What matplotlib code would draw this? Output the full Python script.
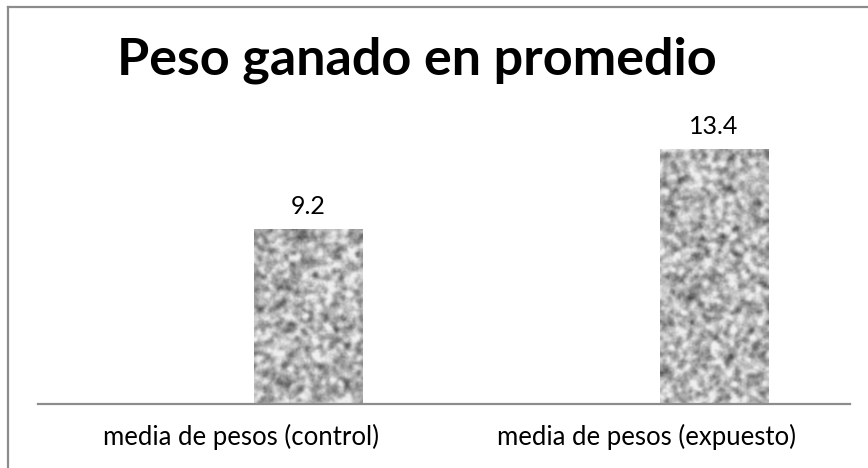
import numpy as np
import matplotlib
matplotlib.use("Agg")
import matplotlib.pyplot as plt
from matplotlib.lines import Line2D

plt.rcParams['font.family'] = ['Lato', 'DejaVu Sans']

title = "Peso ganado en promedio"
categories = ["media de pesos (control)", "media de pesos (expuesto)"]
values = [9.2, 13.4]
value_labels = ["9.2", "13.4"]

fig = plt.figure(figsize=(8.68, 4.68), dpi=100)
fig.patch.set_facecolor("white")

# chart frame (top and left edges visible)
fig.add_artist(Line2D([8/868, 1.0], [1 - 7/468, 1 - 7/468], transform=fig.transFigure,
                      color="#8c8c8c", lw=1.6))
fig.add_artist(Line2D([8/868, 8/868], [0.0, 1 - 7/468], transform=fig.transFigure,
                      color="#8c8c8c", lw=1.6))

ax = fig.add_axes([38/868, 1 - 404/468, (850 - 38)/868, (404 - 100)/468])
ax.set_xlim(-0.5, 1.5)
ax.set_ylim(0, 16)

x = np.arange(len(categories))
offset = 0.165
width = 0.268
bars = ax.bar(x + offset, values, width=width, color="none", edgecolor="none")


def granite(h, w, rng):
    # smoothed speckle noise for the stone fill
    n = rng.normal(size=(h + 4, w + 4))
    k = np.array([1, 2, 3, 2, 1], dtype=float)
    k /= k.sum()
    n = np.apply_along_axis(lambda r: np.convolve(r, k, mode="same"), 1, n)
    n = np.apply_along_axis(lambda c: np.convolve(c, k, mode="same"), 0, n)
    n = n[2:-2, 2:-2]
    fine = rng.normal(size=(h, w)) * 0.4
    n = n / n.std() + fine
    g = 182 + 32 * n
    g = np.clip(g, 70, 240) / 255.0
    return g


rng = np.random.default_rng(7)
for b in bars:
    x0, y0 = b.get_x(), b.get_y()
    w, h = b.get_width(), b.get_height()
    rows = int(h / 16 * 304 / 1.6)
    cols = int(w * 406 / 1.6)
    tex = granite(rows, cols, rng)
    ax.imshow(tex, cmap="gray", vmin=0, vmax=1, extent=(x0, x0 + w, y0, y0 + h),
              aspect="auto", interpolation="bicubic", zorder=2)

for b, lab in zip(bars, value_labels):
    ax.annotate(lab, (b.get_x() + b.get_width() / 2, b.get_height()),
                xytext=(0, 8), textcoords="offset points", ha="center", va="bottom",
                fontsize=18, color="#000000")

ax.set_xticks(x)
ax.set_xticklabels(categories, fontsize=18.5)
ax.tick_params(axis="x", length=0, pad=14)
ax.set_yticks([])
for s in ["top", "right", "left"]:
    ax.spines[s].set_visible(False)
ax.spines["bottom"].set_color("#8c8c8c")
ax.spines["bottom"].set_linewidth(1.6)
ax.spines["bottom"].set_zorder(3)
ax.set_facecolor("none")

fig.text(417/868, 1 - 60/468, title, ha="center", va="center",
         fontsize=37.5, fontweight="bold", color="#000000")

fig.savefig("out.png", dpi=100, facecolor="white")
